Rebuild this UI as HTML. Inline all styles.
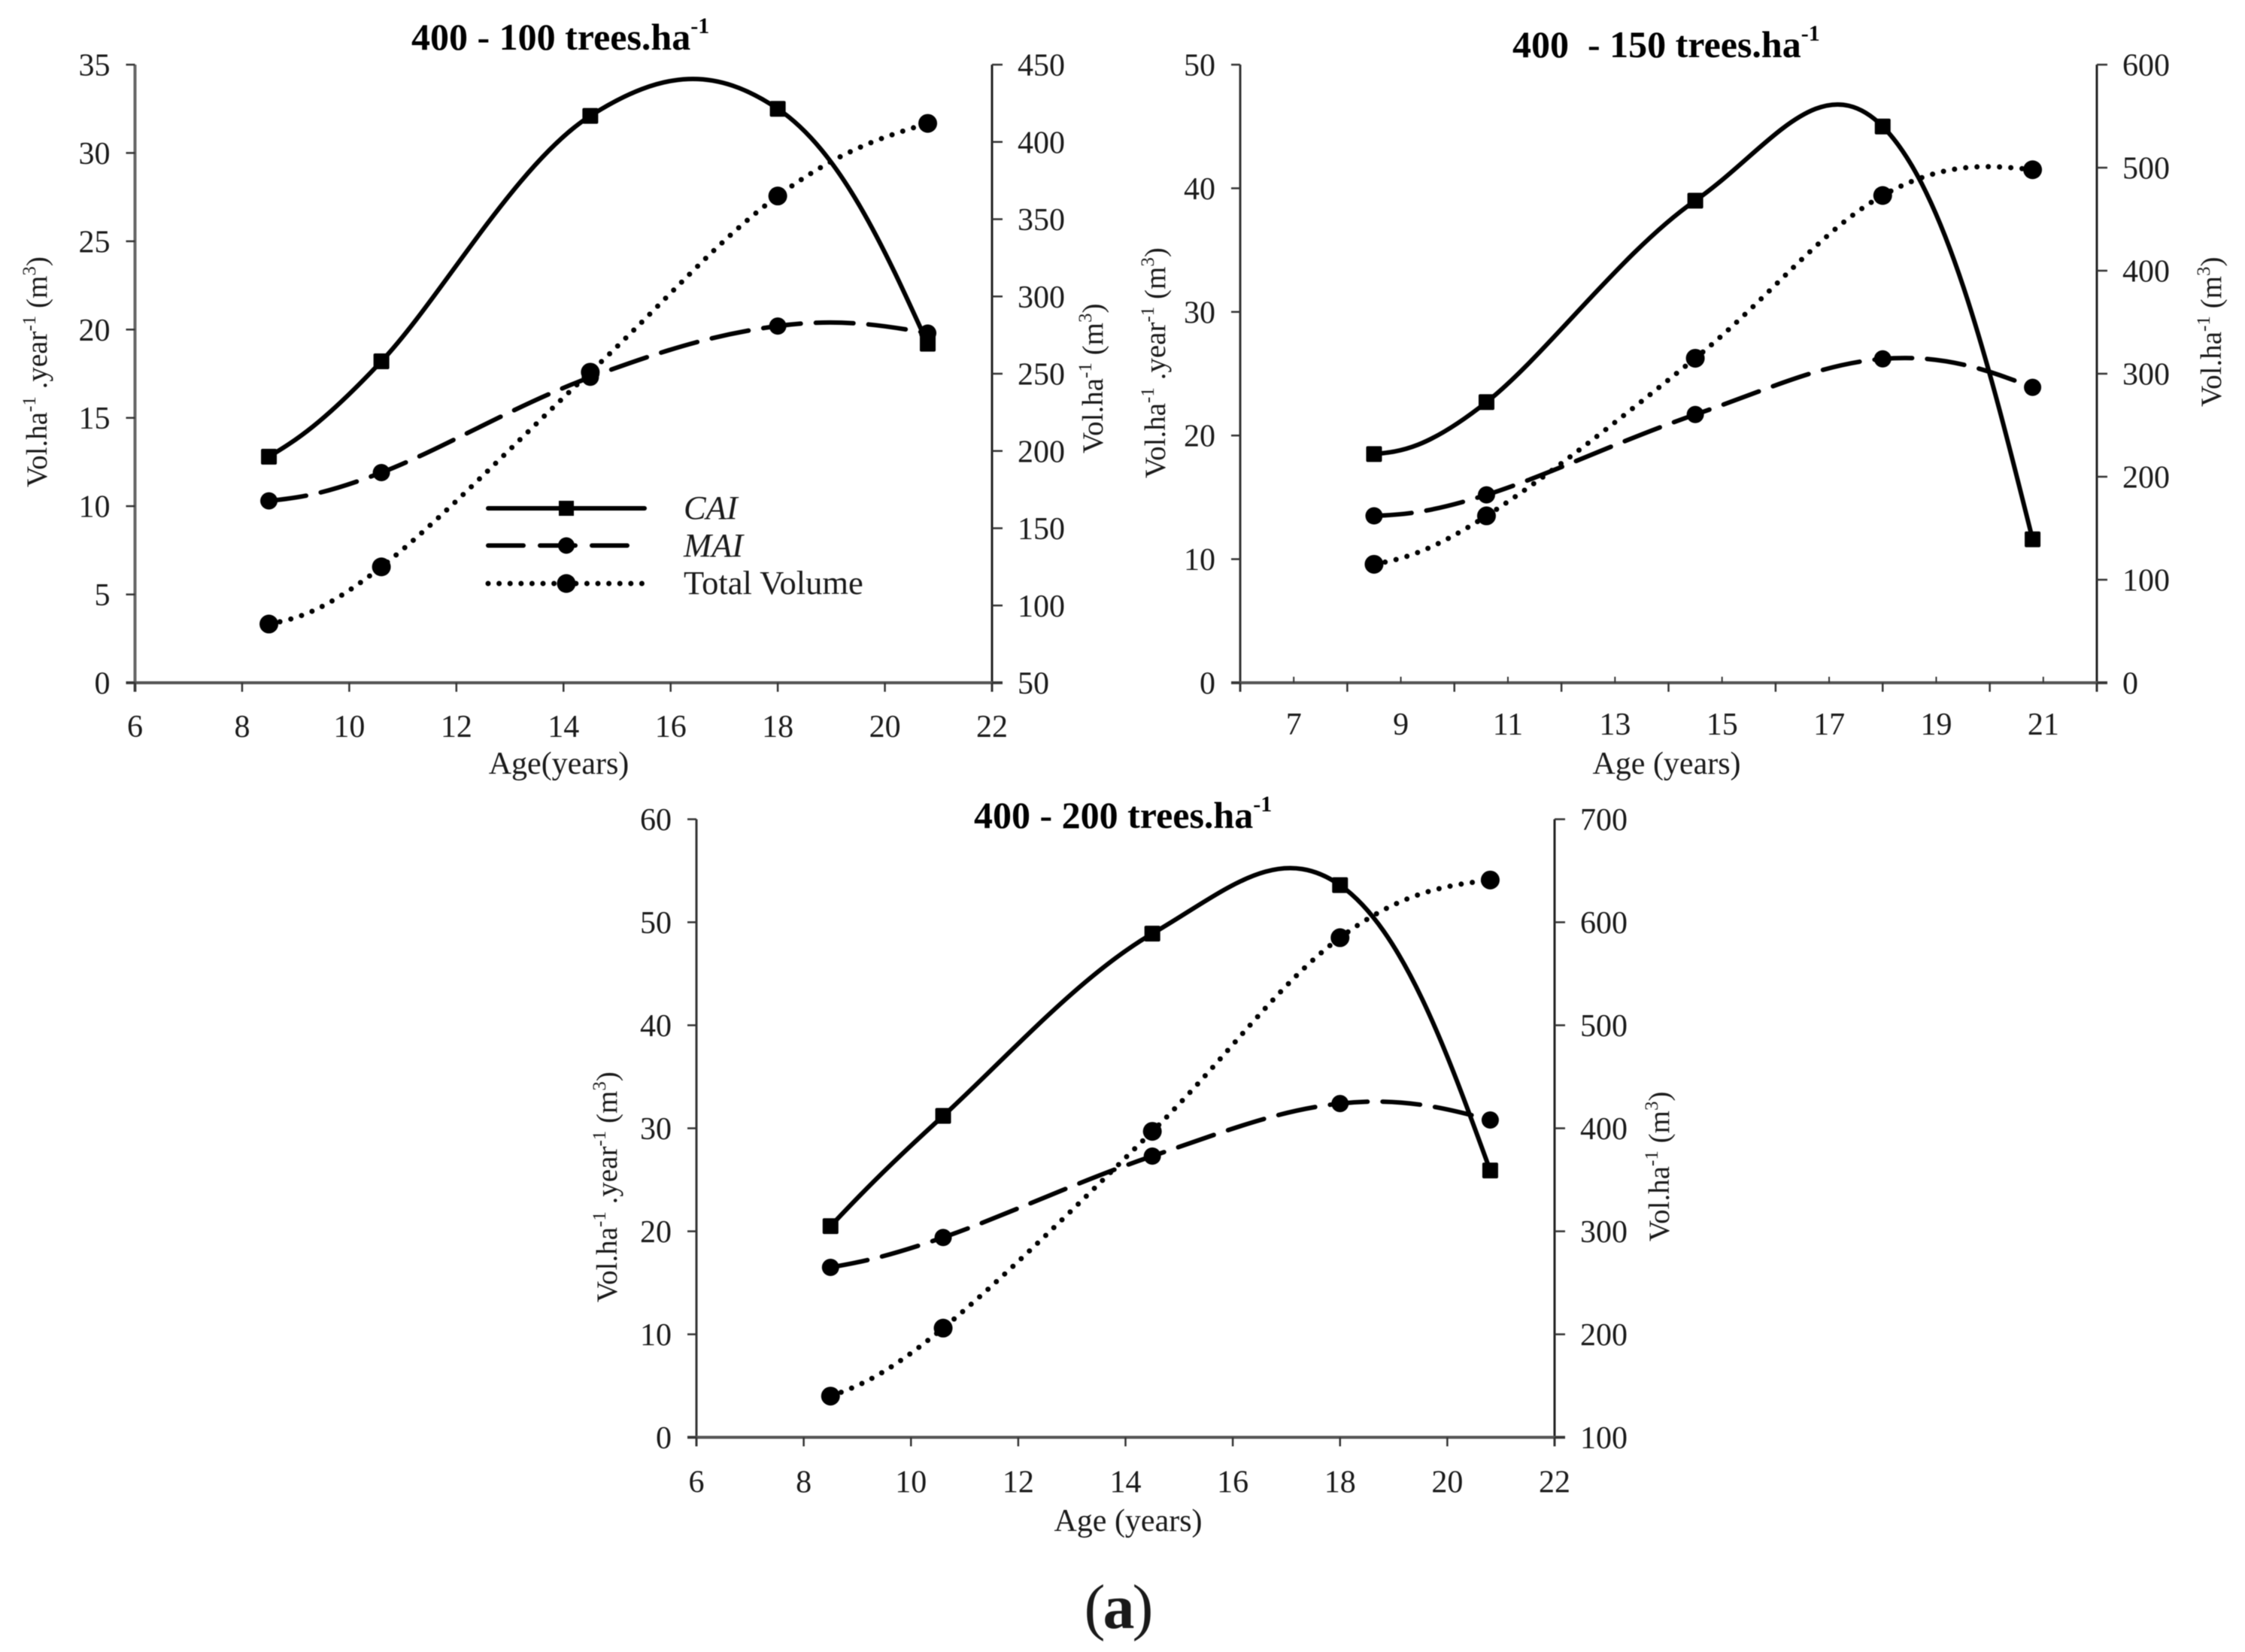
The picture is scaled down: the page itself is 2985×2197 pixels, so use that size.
<!DOCTYPE html>
<html lang="en">
<head>
<meta charset="utf-8">
<title>Volume increment charts</title>
<style>
html,body{margin:0;padding:0;background:#fff;}
#figure{display:block;width:2985px;height:2197px;background:#fff;filter:blur(0.5px);}
text{font-family:"Liberation Serif",serif;fill:#1a1a1a;}
.ttl{font-size:50px;font-weight:bold;fill:#000;}
.axt{font-size:39px;}
.xt{font-size:42px;}
.lg{font-size:44.5px;}
</style>
</head>
<body>
<svg id="figure" xmlns="http://www.w3.org/2000/svg" width="2985" height="2197" viewBox="0 0 2985 2197">
  <rect width="2985" height="2197" fill="#fff"/>

  <g id="chart-a">
    <text class="ttl" x="547" y="66">400 - 100 trees.ha<tspan font-size="30" dy="-22">-1</tspan></text>
    <text class="xt" x="743" y="1029" text-anchor="middle">Age(years)</text>
    <text class="axt" transform="translate(62,648) rotate(-90)">Vol.ha<tspan font-size="25" dy="-15">-1</tspan><tspan dy="15"> .year</tspan><tspan font-size="25" dy="-15">-1</tspan><tspan dy="15"> (m</tspan><tspan font-size="25" dy="-15">3</tspan><tspan dy="15">)</tspan></text>
    <text class="axt" transform="translate(1466,603) rotate(-90)">Vol.ha<tspan font-size="25" dy="-15">-1</tspan><tspan dy="15"> (m</tspan><tspan font-size="25" dy="-15">3</tspan><tspan dy="15">)</tspan></text>
  </g>

  <g id="chart-b">
    <text class="ttl" x="2011" y="76" xml:space="preserve">400  - 150 trees.ha<tspan font-size="30" dy="-22">-1</tspan></text>
    <text class="xt" x="2216" y="1029" text-anchor="middle">Age (years)</text>
    <text class="axt" transform="translate(1549,636) rotate(-90)">Vol.ha<tspan font-size="25" dy="-15">-1</tspan><tspan dy="15"> .year</tspan><tspan font-size="25" dy="-15">-1</tspan><tspan dy="15"> (m</tspan><tspan font-size="25" dy="-15">3</tspan><tspan dy="15">)</tspan></text>
    <text class="axt" transform="translate(2953,541) rotate(-90)">Vol.ha<tspan font-size="25" dy="-15">-1</tspan><tspan dy="15"> (m</tspan><tspan font-size="25" dy="-15">3</tspan><tspan dy="15">)</tspan></text>
  </g>

  <g id="chart-c">
    <text class="ttl" x="1295" y="1101">400 - 200 trees.ha<tspan font-size="30" dy="-22">-1</tspan></text>
    <text class="xt" x="1500" y="2036" text-anchor="middle">Age (years)</text>
    <text class="axt" transform="translate(820,1732) rotate(-90)">Vol.ha<tspan font-size="25" dy="-15">-1</tspan><tspan dy="15"> .year</tspan><tspan font-size="25" dy="-15">-1</tspan><tspan dy="15"> (m</tspan><tspan font-size="25" dy="-15">3</tspan><tspan dy="15">)</tspan></text>
    <text class="axt" transform="translate(2219,1651) rotate(-90)">Vol.ha<tspan font-size="25" dy="-15">-1</tspan><tspan dy="15"> (m</tspan><tspan font-size="25" dy="-15">3</tspan><tspan dy="15">)</tspan></text>
  </g>

  <g id="legend">
    <g>
      <line x1="649" y1="676" x2="857" y2="676" stroke="#000" stroke-width="6" stroke-linecap="round"/>
      <rect x="743" y="666" width="20" height="20" fill="#000"/>
      <text class="lg" x="909" y="690" font-style="italic">CAI</text>
    </g>
    <g>
      <line x1="649" y1="725.5" x2="838" y2="725.5" stroke="#000" stroke-width="6" stroke-linecap="round" stroke-dasharray="47 22"/>
      <circle cx="753" cy="725.5" r="11" fill="#000"/>
      <text class="lg" x="909" y="740" font-style="italic">MAI</text>
    </g>
    <g>
      <line x1="649" y1="776" x2="855" y2="776" stroke="#000" stroke-width="7" stroke-linecap="round" stroke-dasharray="0 14.6"/>
      <circle cx="753" cy="776" r="12.5" fill="#000"/>
      <text class="lg" x="909" y="790">Total Volume</text>
    </g>
  </g>

  <text x="1486" y="2165" text-anchor="middle" font-size="84" letter-spacing="-3" fill="#000">(<tspan font-weight="bold">a</tspan>)</text>
</svg>

<script>
// Shared sampling ages (years)
const ages = [8.5, 10.6, 14.5, 18, 20.8];

// 400 - 100 trees.ha-1
const caiA = [12.8, 18.2, 32.1, 32.5, 19.2];
const maiA = [10.3, 11.9, 17.3, 20.2, 19.8];
const volA = [88, 125, 251, 365, 412];
const xTicksA = [6, 8, 10, 12, 14, 16, 18, 20, 22];
const xLabelsA = [6, 8, 10, 12, 14, 16, 18, 20, 22];
const leftTicksA = [0, 5, 10, 15, 20, 25, 30, 35];
const rightTicksA = [50, 100, 150, 200, 250, 300, 350, 400, 450];

// 400 - 150 trees.ha-1
const caiB = [18.5, 22.7, 39, 45, 11.6];
const maiB = [13.5, 15.2, 21.7, 26.2, 23.9];
const volB = [115, 162, 315, 473, 498];
const xTicksB = [6, 8, 10, 12, 14, 16, 18, 20, 22];
const xMinorB = [7, 9, 11, 13, 15, 17, 19, 21];
const xLabelsB = [7, 9, 11, 13, 15, 17, 19, 21];
const leftTicksB = [0, 10, 20, 30, 40, 50];
const rightTicksB = [0, 100, 200, 300, 400, 500, 600];

// 400 - 200 trees.ha-1
const caiC = [20.5, 31.2, 48.9, 53.6, 25.9];
const maiC = [16.5, 19.4, 27.3, 32.4, 30.8];
const volC = [140, 206, 397, 585, 641];
const xTicksC = [6, 8, 10, 12, 14, 16, 18, 20, 22];
const xLabelsC = [6, 8, 10, 12, 14, 16, 18, 20, 22];
const leftTicksC = [0, 10, 20, 30, 40, 50, 60];
const rightTicksC = [100, 200, 300, 400, 500, 600, 700];

const SVGNS = 'http://www.w3.org/2000/svg';
const SMOOTH = 0.185;

function mk(parent, tag, attrs) {
  const el = document.createElementNS(SVGNS, tag);
  for (const k in attrs) el.setAttribute(k, attrs[k]);
  parent.appendChild(el);
  return el;
}

function smoothPath(pts) {
  const n = pts.length;
  const after = [], before = [];
  for (let i = 1; i < n - 1; i++) {
    const dx = (pts[i + 1][0] - pts[i - 1][0]) * SMOOTH;
    const dy = (pts[i + 1][1] - pts[i - 1][1]) * SMOOTH;
    before[i] = [pts[i][0] - dx, pts[i][1] - dy];
    after[i] = [pts[i][0] + dx, pts[i][1] + dy];
  }
  // end segments: control point halfway towards the neighbouring control point
  after[0] = [(pts[0][0] + before[1][0]) / 2, (pts[0][1] + before[1][1]) / 2];
  before[n - 1] = [(pts[n - 1][0] + after[n - 2][0]) / 2, (pts[n - 1][1] + after[n - 2][1]) / 2];
  let d = 'M' + pts[0][0].toFixed(1) + ' ' + pts[0][1].toFixed(1);
  for (let i = 0; i < n - 1; i++) {
    d += ' C' + after[i][0].toFixed(1) + ' ' + after[i][1].toFixed(1) +
         ' ' + before[i + 1][0].toFixed(1) + ' ' + before[i + 1][1].toFixed(1) +
         ' ' + pts[i + 1][0].toFixed(1) + ' ' + pts[i + 1][1].toFixed(1);
  }
  return d;
}

function drawChart(cfg) {
  const root = document.getElementById(cfg.id);
  const g = mk(root, 'g', {});
  
  

  const xScale = v => cfg.left + (v - cfg.xMin) / (cfg.xMax - cfg.xMin) * (cfg.right - cfg.left);
  const yLeft = v => cfg.bottom - (v - cfg.lMin) / (cfg.lMax - cfg.lMin) * (cfg.bottom - cfg.top);
  const yRight = v => cfg.bottom - (v - cfg.rMin) / (cfg.rMax - cfg.rMin) * (cfg.bottom - cfg.top);

  // axes
  const leftAxis = mk(g, 'line', {x1: cfg.left, y1: cfg.top, x2: cfg.left, y2: cfg.bottom + 12, stroke: cfg.leftColor, 'stroke-width': cfg.leftWidth});
  
  
  const rightAxis = mk(g, 'line', {x1: cfg.right, y1: cfg.top, x2: cfg.right, y2: cfg.bottom + 12, stroke: '#222', 'stroke-width': 3});
  
  
  const xAxis = mk(g, 'line', {x1: cfg.left - 12, y1: cfg.bottom, x2: cfg.right + 14, y2: cfg.bottom, stroke: '#555', 'stroke-width': 4});
  
  

  // ticks
  cfg.xTicks.forEach(v => {
    const t = mk(g, 'line', {x1: xScale(v), y1: cfg.bottom, x2: xScale(v), y2: cfg.bottom + 12, stroke: '#333', 'stroke-width': 2.5});
    
    
  });
  (cfg.xMinor || []).forEach(v => {
    const t = mk(g, 'line', {x1: xScale(v), y1: cfg.bottom, x2: xScale(v), y2: cfg.bottom - 8, stroke: '#333', 'stroke-width': 2});
    
    
  });
  cfg.xLabels.forEach(v => {
    const t = mk(g, 'text', {x: xScale(v), y: cfg.bottom + cfg.xLabelGap, 'text-anchor': 'middle', 'font-size': 42});
    
    
    t.textContent = v;
  });
  cfg.leftTicks.forEach(v => {
    const t = mk(g, 'line', {x1: cfg.left - 12, y1: yLeft(v), x2: cfg.left, y2: yLeft(v), stroke: '#333', 'stroke-width': 2.5});
    
    
    const l = mk(g, 'text', {x: cfg.left - 33, y: yLeft(v) + 14.5, 'text-anchor': 'end', 'font-size': 42});
    
    
    l.textContent = v;
  });
  cfg.rightTicks.forEach(v => {
    const t = mk(g, 'line', {x1: cfg.right, y1: yRight(v), x2: cfg.right + 14, y2: yRight(v), stroke: '#333', 'stroke-width': 2.5});
    
    
    const l = mk(g, 'text', {x: cfg.right + 34, y: yRight(v) + 14.5, 'text-anchor': 'start', 'font-size': 42});
    
    
    l.textContent = v;
  });

  // series lines
  const caiPts = cfg.ages.map((a, i) => [xScale(a), yLeft(cfg.cai[i])]);
  const maiPts = cfg.ages.map((a, i) => [xScale(a), yLeft(cfg.mai[i])]);
  const volPts = cfg.ages.map((a, i) => [xScale(a), yRight(cfg.vol[i])]);

  const volLine = mk(g, 'path', {d: smoothPath(volPts), fill: 'none', stroke: '#000', 'stroke-width': 7, 'stroke-linecap': 'round', 'stroke-dasharray': '0 15'});
  
  
  const maiLine = mk(g, 'path', {d: smoothPath(maiPts), fill: 'none', stroke: '#000', 'stroke-width': 6, 'stroke-linecap': 'round', 'stroke-dasharray': '50 20'});
  
  
  const caiLine = mk(g, 'path', {d: smoothPath(caiPts), fill: 'none', stroke: '#000', 'stroke-width': 6});
  
  

  // series markers
  caiPts.forEach(p => {
    const m = mk(g, 'rect', {x: p[0] - 10.5, y: p[1] - 10.5, width: 21, height: 21, rx: 2, fill: '#000'});
    
    
  });
  maiPts.forEach(p => {
    const m = mk(g, 'circle', {cx: p[0], cy: p[1], r: 11.5, fill: '#000'});
    
    
  });
  volPts.forEach(p => {
    const m = mk(g, 'circle', {cx: p[0], cy: p[1], r: 12.5, fill: '#000'});
    
    
  });
}

drawChart({id: 'chart-a', left: 179.5, right: 1319, top: 86, bottom: 908, xLabelGap: 72,
  leftColor: '#666', leftWidth: 4,
  xMin: 6, xMax: 22, lMin: 0, lMax: 35, rMin: 50, rMax: 450,
  ages: ages, cai: caiA, mai: maiA, vol: volA,
  xTicks: xTicksA, xLabels: xLabelsA, leftTicks: leftTicksA, rightTicks: rightTicksA});

drawChart({id: 'chart-b', left: 1649, right: 2788, top: 86, bottom: 908, xLabelGap: 69,
  leftColor: '#333', leftWidth: 3,
  xMin: 6, xMax: 22, lMin: 0, lMax: 50, rMin: 0, rMax: 600,
  ages: ages, cai: caiB, mai: maiB, vol: volB,
  xTicks: xTicksB, xMinor: xMinorB, xLabels: xLabelsB, leftTicks: leftTicksB, rightTicks: rightTicksB});

drawChart({id: 'chart-c', left: 926, right: 2067, top: 1089.5, bottom: 1911.5, xLabelGap: 73,
  leftColor: '#333', leftWidth: 3,
  xMin: 6, xMax: 22, lMin: 0, lMax: 60, rMin: 100, rMax: 700,
  ages: ages, cai: caiC, mai: maiC, vol: volC,
  xTicks: xTicksC, xLabels: xLabelsC, leftTicks: leftTicksC, rightTicks: rightTicksC});
</script>
</body>
</html>
